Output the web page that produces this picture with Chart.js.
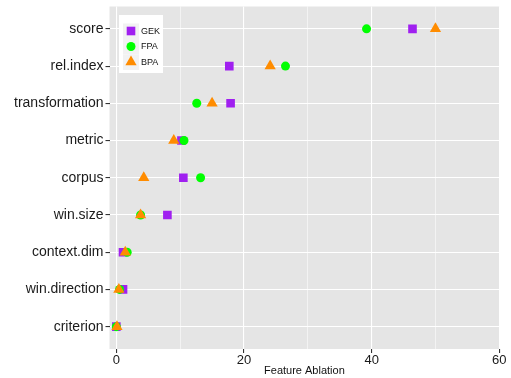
<!DOCTYPE html>
<html>
<head>
<meta charset="utf-8">
<script src="https://cdn.jsdelivr.net/npm/chart.js@4/dist/chart.umd.min.js"></script>
<style>
  html, body { margin: 0; padding: 0; background: #fff; }
  #wrap { width: 511px; height: 378px; position: relative; }
</style>
</head>
<body>
<div id="wrap"><canvas id="chart"></canvas></div>
<script>
// categories, top to bottom
const categories = ["score", "rel.index", "transformation", "metric", "corpus",
                    "win.size", "context.dim", "win.direction", "criterion"];

// feature ablation values per method
const gek = [46.4, 17.7, 17.9, 10.2, 10.5, 8.0, 1.05, 1.05, 0.0];
const fpa = [39.2, 26.5, 12.6, 10.6, 13.2, 3.8, 1.7, 0.5, 0.0];
const bpa = [50.0, 24.1, 15.0, 9.0, 4.3, 3.8, 1.4, 0.4, 0.1];

const xTicks = [0, 10, 20, 30, 40, 50, 60];
const xLabelled = [0, 20, 40, 60];

const FONT = "'Liberation Sans', Arial, Helvetica, sans-serif";

function toPoints(vals) {
  return vals.map((v, i) => ({ x: v, y: i }));
}

// grey panel behind the plot
const panelBg = {
  id: "panelBg",
  beforeDraw(chart) {
    const a = chart.chartArea, ctx = chart.ctx;
    ctx.save();
    ctx.fillStyle = "#E5E5E5";
    ctx.fillRect(a.left, a.top, a.right - a.left, a.bottom - a.top);
    ctx.restore();
  }
};

// ggplot-like legend box inside the panel
function drawMarker(ctx, style, x, y, r, color) {
  ctx.fillStyle = color;
  ctx.beginPath();
  if (style === "rect") {
    const s = r / Math.SQRT2;
    ctx.rect(x - s, y - s, 2 * s, 2 * s);
  } else if (style === "triangle") {
    ctx.moveTo(x, y - r);
    ctx.lineTo(x + r * Math.sin(Math.PI / 3), y + r / 2);
    ctx.lineTo(x - r * Math.sin(Math.PI / 3), y + r / 2);
    ctx.closePath();
  } else {
    ctx.arc(x, y, r, 0, Math.PI * 2);
  }
  ctx.fill();
}

const insideLegend = {
  id: "insideLegend",
  afterDatasetsDraw(chart) {
    const ctx = chart.ctx;
    const bx = 119, by = 15, bw = 44, bh = 58;
    ctx.save();
    ctx.fillStyle = "#fff";
    ctx.fillRect(bx, by, bw, bh);
    chart.data.datasets.forEach((ds, i) => {
      const cy = 31 + i * 15.5;
      ctx.fillStyle = "#F2F2F2";
      ctx.fillRect(bx + 4, cy - 7.5, 16, 15.5);
      drawMarker(ctx, ds.pointStyle, bx + 12, cy, ds.pointRadius, ds.backgroundColor);
      ctx.fillStyle = "#111";
      ctx.font = "9px " + FONT;
      ctx.textBaseline = "middle";
      ctx.textAlign = "left";
      ctx.fillText(ds.label, bx + 22, cy + 0.5);
    });
    ctx.restore();
  }
};

new Chart(document.getElementById("chart"), {
  type: "scatter",
  data: {
    datasets: [
      { label: "GEK", data: toPoints(gek), pointStyle: "rect", pointRadius: 6.1,
        backgroundColor: "#A020F0", borderWidth: 0, order: 2 },
      { label: "FPA", data: toPoints(fpa), pointStyle: "circle", pointRadius: 4.5,
        backgroundColor: "#00FF00", borderWidth: 0, order: 1 },
      { label: "BPA", data: toPoints(bpa), pointStyle: "triangle", pointRadius: 6.5,
        backgroundColor: "#FF8C00", borderWidth: 0, order: 0 }
    ]
  },
  options: {
    responsive: true,
    maintainAspectRatio: false,
    animation: false,
    layout: { padding: { left: 0, right: 11.7, top: 5, bottom: 0 } },
    plugins: {
      legend: { display: false },
      tooltip: { enabled: false }
    },
    elements: { point: { hoverRadius: 0 } },
    scales: {
      x: {
        type: "linear",
        min: -1.07,
        max: 60,
        afterBuildTicks(scale) { scale.ticks = xTicks.map(v => ({ value: v })); },
        afterFit(scale) { scale.height = 29; scale.paddingLeft = 0; scale.paddingRight = 0; },
        border: { display: false },
        grid: {
          color: "#fff",
          lineWidth: c => (xLabelled.includes(c.tick && c.tick.value) ? 1.1 : 0.55),
          tickColor: c => (xLabelled.includes(c.tick && c.tick.value) ? "#333" : "rgba(0,0,0,0)"),
          tickLength: 4,
          drawTicks: true
        },
        ticks: {
          autoSkip: false,
          maxRotation: 0,
          padding: 0,
          color: "#1A1A1A",
          font: { family: FONT, size: 13 },
          callback: v => (xLabelled.includes(v) ? String(v) : "")
        },
        title: {
          display: true,
          text: "Feature Ablation",
          color: "#111",
          font: { family: FONT, size: 11 },
          padding: { top: 0, bottom: 0 }
        }
      },
      y: {
        type: "linear",
        reverse: true,
        min: -0.6,
        max: categories.length - 1 + 0.6,
        afterBuildTicks(scale) { scale.ticks = categories.map((c, i) => ({ value: i })); },
        afterFit(scale) { scale.width = 109.5; scale.paddingTop = 0; scale.paddingBottom = 0; },
        border: { display: false },
        grid: {
          color: "#fff",
          lineWidth: 1.1,
          tickColor: "#333",
          tickLength: 4
        },
        ticks: {
          autoSkip: false,
          padding: 2,
          color: "#1A1A1A",
          font: { family: FONT, size: 14 },
          callback: v => categories[v]
        }
      }
    }
  },
  plugins: [panelBg, insideLegend]
});
</script>
</body>
</html>
